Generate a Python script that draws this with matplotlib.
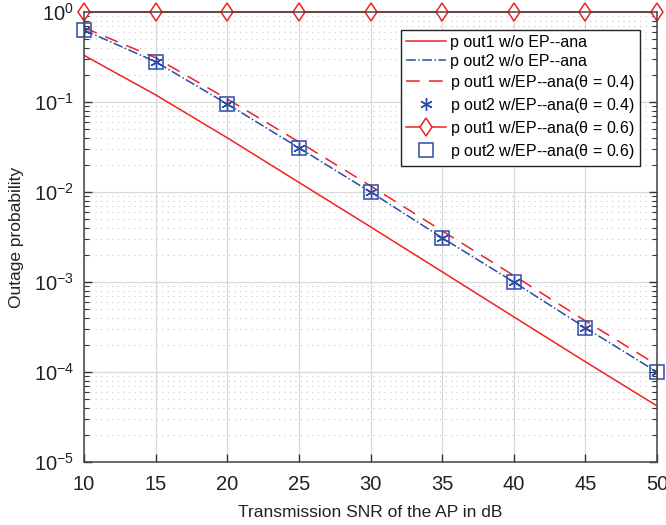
import numpy as np
import matplotlib.pyplot as plt
from matplotlib.ticker import LogLocator, NullFormatter

plt.rcParams['font.family'] = ['Liberation Sans', 'DejaVu Sans']

snr_db = [10, 15, 20, 25, 30, 35, 40, 45, 50]

# outage probabilities
p1_no_ep = [0.33, 0.12, 0.04, 0.0128, 0.0041, 0.0013, 4.1e-4, 1.3e-4, 4.2e-5]
p2_no_ep = [0.63, 0.28, 0.095, 0.031, 0.0100, 0.0031, 1.0e-3, 3.1e-4, 1.0e-4]
p1_ep04 = [0.67, 0.31, 0.108, 0.036, 0.0117, 0.0037, 1.18e-3, 3.7e-4, 1.2e-4]
p2_ep04 = [0.63, 0.28, 0.095, 0.031, 0.0100, 0.0031, 1.0e-3, 3.1e-4, 1.0e-4]
p1_ep06 = [1, 1, 1, 1, 1, 1, 1, 1, 1]
p2_ep06 = [0.63, 0.28, 0.095, 0.031, 0.0100, 0.0031, 1.0e-3, 3.1e-4, 1.0e-4]

red = '#ee2222'
blue = '#2b4aa8'

fig = plt.figure(figsize=(6.66, 5.25), dpi=100)
ax = fig.add_axes([84 / 666, 1 - 462 / 525, 573 / 666, 450 / 525])

ax.semilogy(snr_db, p1_no_ep, '-', color=red, lw=1.1, label='p out1 w/o EP--ana')
ax.semilogy(snr_db, p2_no_ep, '-.', color=blue, lw=1.1, label='p out2 w/o EP--ana')
ax.semilogy(snr_db, p1_ep04, '--', color=red, lw=1.1, dashes=(9, 6),
            label=r'p out1 w/EP--ana($\mathregular{\theta}$ = 0.4)')
ax.semilogy(snr_db, p2_ep04, ls='none', color=blue, ms=9, mew=1.0, marker=(6, 2, 0),
            label=r'p out2 w/EP--ana($\mathregular{\theta}$ = 0.4)')
ax.semilogy(snr_db, p1_ep06, '-', color=red, lw=1.1, marker='d', ms=9.5,
            mfc='white', mec=red, mew=1.1, clip_on=False,
            label=r'p out1 w/EP--ana($\mathregular{\theta}$ = 0.6)')
ax.semilogy(snr_db, p2_ep06, 's', color=blue, ms=9.5, mfc='none', mec=blue, mew=1.1,
            clip_on=False, label=r'p out2 w/EP--ana($\mathregular{\theta}$ = 0.6)')

ax.set_xlim(10, 50)
ax.set_ylim(1e-5, 1)
ax.set_xticks(snr_db)
ax.yaxis.set_major_locator(LogLocator(base=10, numticks=10))
ax.yaxis.set_minor_locator(LogLocator(base=10, subs=np.arange(2, 10), numticks=10))
ax.yaxis.set_minor_formatter(NullFormatter())

ax.grid(True, which='major', color='#d8d8d8', lw=0.9, ls='-')
ax.grid(True, which='minor', axis='y', color='#c8c8c8', lw=0.8, ls=(0, (1, 4)))
ax.set_axisbelow(True)

ax.tick_params(which='both', direction='in', top=True, right=True,
               colors='#333333', labelcolor='#222222')
ax.tick_params(which='major', length=6, width=1.0, labelsize=14.5)
ax.tick_params(axis='x', which='major', pad=9)
ax.tick_params(axis='y', which='major', pad=7)
ax.tick_params(which='minor', length=3.5, width=0.8)
for s in ax.spines.values():
    s.set_color('#444444')
    s.set_linewidth(1.1)

ax.set_xlabel('Transmission SNR of the AP in dB', fontsize=12.5, color='#222222', labelpad=8)
ax.set_ylabel('Outage probability', fontsize=12.5, color='#222222', labelpad=7)

leg = ax.legend(loc='upper right', bbox_to_anchor=(0.97, 0.96), fontsize=11.5,
                fancybox=False, framealpha=1, edgecolor='#222222',
                handlelength=2.5, handletextpad=0.3, labelspacing=0.25,
                borderpad=0.3, borderaxespad=0)
leg.get_frame().set_linewidth(1.0)

fig.savefig('out.png', dpi=100)
